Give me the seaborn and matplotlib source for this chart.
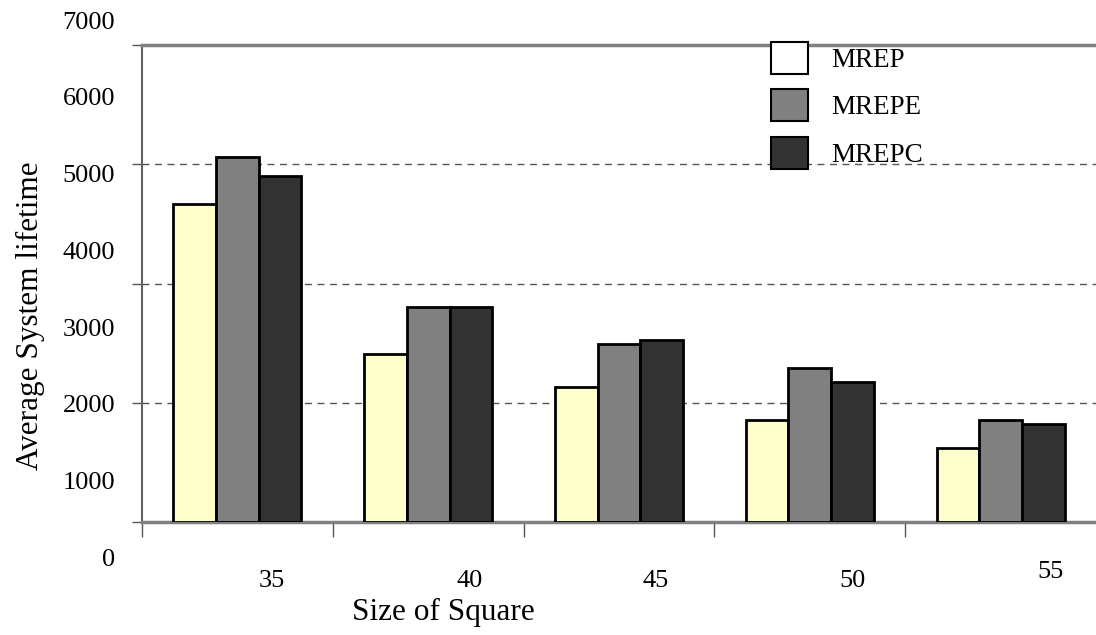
import pandas as pd
import matplotlib.pyplot as plt
import seaborn as sns

# Data
sizes = ["35", "40", "45", "50", "55"]
methods = ["MREP", "MREPE", "MREPC"]
mrep = [4662, 2470, 1981, 1497, 1091]
mrepe = [5361, 3155, 2608, 2256, 1497]
mrepc = [5078, 3155, 2676, 2055, 1434]
ytick_labels = [0, 1000, 2000, 3000, 4000, 5000, 6000, 7000]

df = pd.DataFrame({
    "size": sizes * 3,
    "method": [m for m in methods for _ in sizes],
    "lifetime": mrep + mrepe + mrepc,
})

sns.set_style("white", {"text.color": "black", "axes.labelcolor": "black"})
plt.rcParams['font.family'] = ['Liberation Serif', 'DejaVu Serif']

fig = plt.figure(figsize=(10.96, 6.35), dpi=100)
ax = fig.add_axes([142 / 1096, 1 - 522 / 635, 1 - 142 / 1096, 477 / 635])

palette = {"MREP": "#FFFFCC", "MREPE": "#808080", "MREPC": "#333333"}
sns.barplot(data=df, x="size", y="lifetime", hue="method", hue_order=methods,
            order=sizes, palette=palette, width=0.67, edgecolor="black",
            linewidth=2, saturation=1, ax=ax, zorder=3)

ax.set_xlim(-0.5, 4.5)
ax.set_ylim(0, 7000)

# gridlines at the quarter marks of the frame, labels drawn separately
ax.set_yticks([0, 1750, 3500, 5250, 7000])
ax.set_yticklabels([])
ax.yaxis.grid(True, linestyle=(0, (5, 4)), color="#555555", linewidth=1)
ax.xaxis.grid(False)
ax.tick_params(axis="y", left=True, length=7, width=1, color="#555555", direction="out")

ax.set_xticks([-0.5, 0.5, 1.5, 2.5, 3.5])
ax.set_xticklabels([])
ax.tick_params(axis="x", bottom=True, length=11, width=1, color="#555555", direction="out")

for side in ["top", "bottom"]:
    ax.spines[side].set_color("#808080")
    ax.spines[side].set_linewidth(2.5)
ax.spines["left"].set_color("#606060")
ax.spines["left"].set_linewidth(1.5)
ax.spines["right"].set_visible(False)

# y tick labels sit on their own scale, offset from the gridlines
ytrans = ax.get_yaxis_transform()
for v in ytick_labels:
    ax.text(-0.028, -558 + 1.1266 * v, str(v), transform=ytrans, color="black",
            ha="right", va="center", fontsize=19, clip_on=False)

# x tick labels, shifted right of the group centres
xtrans = ax.get_xaxis_transform()
x_offsets = [0.18, 0.215, 0.19, 0.225, 0.26]
y_offsets = [-0.124, -0.124, -0.124, -0.124, -0.105]
for i, s in enumerate(sizes):
    ax.text(i + x_offsets[i], y_offsets[i], s, transform=xtrans, color="black",
            ha="center", va="center", fontsize=19, clip_on=False)

ax.set_xlabel("Size of Square", fontsize=22.5, color="black")
ax.xaxis.set_label_coords(0.3155, -0.189)
ax.xaxis.label.set_va("center")
ax.set_ylabel("Average System lifetime", fontsize=22.5, color="black")
ax.yaxis.set_label_coords(-0.1174, 0.432)
ax.yaxis.label.set_va("center")

handles, labels = ax.get_legend_handles_labels()
ax.get_legend().remove()
leg = ax.legend(handles, labels, loc="upper left",
                bbox_to_anchor=(771 / 1096, 1 - 42 / 635), bbox_transform=fig.transFigure,
                frameon=False, fontsize=19.5, borderpad=0, borderaxespad=0,
                handlelength=1.36, handleheight=1.45, labelspacing=0.56,
                handletextpad=0.87, labelcolor="black")
for h in leg.legend_handles:
    h.set_linewidth(1.5)
leg.legend_handles[0].set_facecolor("white")
leg.set_zorder(10)

plt.savefig("out.png", dpi=100)
